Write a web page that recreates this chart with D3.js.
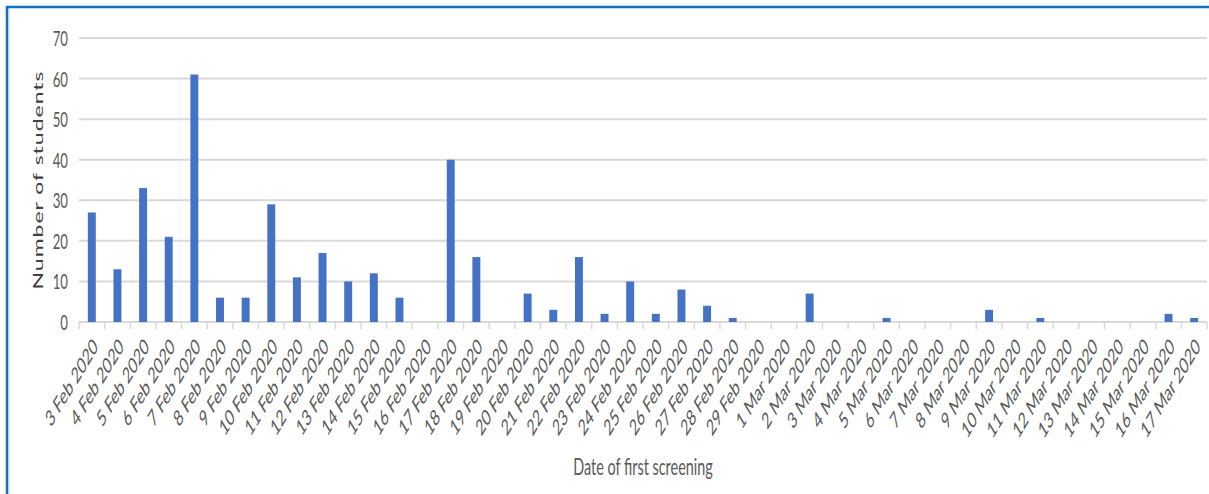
<!DOCTYPE html>
<html>
<head>
<meta charset="utf-8">
<script src="https://cdn.jsdelivr.net/npm/d3@7"></script>
<style>
  body { margin: 0; background: #fff; }
  svg { display: block; }
  text { font-family: Lato, "Noto Sans", sans-serif; fill: #595959; }
</style>
</head>
<body>
<script>
const dates = [
  "3 Feb 2020", "4 Feb 2020", "5 Feb 2020", "6 Feb 2020", "7 Feb 2020", "8 Feb 2020",
  "9 Feb 2020", "10 Feb 2020", "11 Feb 2020", "12 Feb 2020", "13 Feb 2020", "14 Feb 2020",
  "15 Feb 2020", "16 Feb 2020", "17 Feb 2020", "18 Feb 2020", "19 Feb 2020", "20 Feb 2020",
  "21 Feb 2020", "22 Feb 2020", "23 Feb 2020", "24 Feb 2020", "25 Feb 2020", "26 Feb 2020",
  "27 Feb 2020", "28 Feb 2020", "29 Feb 2020", "1 Mar 2020", "2 Mar 2020", "3 Mar 2020",
  "4 Mar 2020", "5 Mar 2020", "6 Mar 2020", "7 Mar 2020", "8 Mar 2020", "9 Mar 2020",
  "10 Mar 2020", "11 Mar 2020", "12 Mar 2020", "13 Mar 2020", "14 Mar 2020", "15 Mar 2020",
  "16 Mar 2020", "17 Mar 2020"
];
const students = [
  27, 13, 33, 21, 61, 6,
  6, 29, 11, 17, 10, 12,
  6, 0, 40, 16, 0, 7,
  3, 16, 2, 10, 2, 8,
  4, 1, 0, 0, 7, 0,
  0, 1, 0, 0, 0, 3,
  0, 1, 0, 0, 0, 0,
  2, 1
];
const yTicks = [0, 10, 20, 30, 40, 50, 60, 70];

const w = 1209;
const h = 494;
const plotLeft = 79, plotRight = 1207, plotTop = 38, plotBottom = 322;
const SX = 0.6; // the picture's text is squeezed sideways

const svg = d3.select("body")
  .append("svg")
  .attr("width", w)
  .attr("height", h);

// frame
svg.append("line").attr("x1", 9).attr("x2", 9).attr("y1", 8).attr("y2", h)
  .attr("stroke", "#d9d9d9").attr("stroke-width", 1);
svg.append("path")
  .attr("d", `M7,${h} V7 H${w}`)
  .attr("fill", "none")
  .attr("stroke", "#0f72c6")
  .attr("stroke-width", 2.5);

// Scales
const xScale = d3.scaleBand()
  .domain(dates)
  .range([plotLeft, plotRight])
  .paddingInner(0.69)
  .paddingOuter(0.345);

const yScale = d3.scaleLinear()
  .domain([0, 70])
  .range([plotBottom, plotTop]);

// gridlines
svg.append("g")
  .selectAll("line")
  .data(yTicks)
  .enter()
  .append("line")
  .attr("x1", plotLeft)
  .attr("x2", plotRight)
  .attr("y1", (d) => yScale(d))
  .attr("y2", (d) => yScale(d))
  .attr("stroke", "#d9d9d9")
  .attr("stroke-width", 2);

// y tick labels
svg.append("g")
  .selectAll("text")
  .data(yTicks)
  .enter()
  .append("text")
  .attr("transform", (d) => `translate(68,${yScale(d) + 8}) scale(${SX},1)`)
  .attr("text-anchor", "end")
  .style("font-size", "22px")
  .text((d) => d);

// x tick marks at category boundaries
const step = xScale.step();
const x0 = xScale(dates[0]) - step * xScale.paddingOuter();
svg.append("g")
  .selectAll("line")
  .data(d3.range(dates.length + 1))
  .enter()
  .append("line")
  .attr("x1", (i) => x0 + i * step)
  .attr("x2", (i) => x0 + i * step)
  .attr("y1", plotBottom)
  .attr("y2", plotBottom + 7)
  .attr("stroke", "#d9d9d9")
  .attr("stroke-width", 1.5);

// Bars
svg.selectAll(".bar")
  .data(dates)
  .enter()
  .append("rect")
  .attr("class", "bar")
  .attr("x", (d) => xScale(d))
  .attr("y", (d, i) => yScale(students[i]))
  .attr("width", xScale.bandwidth())
  .attr("height", (d, i) => plotBottom - yScale(students[i]))
  .attr("fill", "#4472c4");

// x tick labels
svg.append("g")
  .selectAll("text")
  .data(dates)
  .enter()
  .append("text")
  .attr("transform", (d) =>
    `translate(${xScale(d) + xScale.bandwidth() / 2 + 7},${plotBottom + 26}) scale(${SX},1) rotate(-45)`)
  .attr("text-anchor", "end")
  .style("font-size", "22.5px")
  .text((d) => d);

// axis titles
svg.append("text")
  .attr("transform", `translate(43,180) scale(${SX},1) rotate(-90)`)
  .attr("text-anchor", "middle")
  .style("font-size", "23px")
  .style("letter-spacing", "1px")
  .style("fill", "#404040")
  .text("Number of students");

svg.append("text")
  .attr("transform", `translate(643,475) scale(${SX},1)`)
  .attr("text-anchor", "middle")
  .style("font-size", "24px")
  .text("Date of first screening");
</script>
</body>
</html>
